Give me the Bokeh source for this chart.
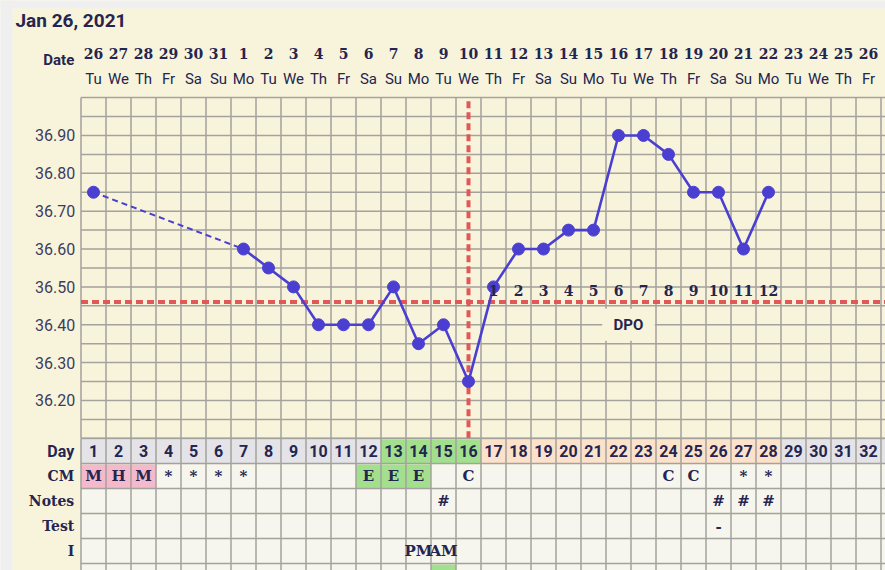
from bokeh.plotting import figure
from bokeh.models import Range1d, ColumnDataSource
from bokeh.core.properties import value
from bokeh.embed import file_html
from bokeh.resources import INLINE

# ---------------- data ----------------
title = "Jan 26, 2021"
days = list(range(1, 34))          # column 33 is only partly visible at the right edge
n_labeled = 32                     # columns whose texts are fully visible
dates = ["26", "27", "28", "29", "30", "31", "1", "2", "3", "4", "5", "6", "7", "8", "9", "10",
         "11", "12", "13", "14", "15", "16", "17", "18", "19", "20", "21", "22", "23", "24", "25", "26"]
weekdays = ["Tu", "We", "Th", "Fr", "Sa", "Su", "Mo"] * 4 + ["Tu", "We", "Th", "Fr"]

temp_days = [1, 7, 8, 9, 10, 11, 12, 13, 14, 15, 16, 17, 18, 19, 20, 21, 22, 23, 24, 25, 26, 27, 28]
temps = [36.75, 36.60, 36.55, 36.50, 36.40, 36.40, 36.40, 36.50, 36.35, 36.40, 36.25, 36.50,
         36.60, 36.60, 36.65, 36.65, 36.90, 36.90, 36.85, 36.75, 36.75, 36.60, 36.75]

y_ticks = [36.20, 36.30, 36.40, 36.50, 36.60, 36.70, 36.80, 36.90]
temp_min, temp_max, temp_step = 36.10, 37.00, 0.05
coverline = 36.46
ovulation_day = 16
dpo_days = [17, 18, 19, 20, 21, 22, 23, 24, 25, 26, 27, 28]
dpo_labels = ["1", "2", "3", "4", "5", "6", "7", "8", "9", "10", "11", "12"]

day_phase = ["base"] * 12 + ["fertile"] * 4 + ["luteal"] * 12 + ["base"] * 5
cm = ["M", "H", "M", "*", "*", "*", "*", "", "", "", "", "E", "E", "E", "", "C",
      "", "", "", "", "", "", "", "C", "C", "", "*", "*", "", "", "", "", ""]
cm_phase = ["menses"] * 3 + ["none"] * 8 + ["egg"] * 3 + ["none"] * 19
notes = [""] * 14 + ["#"] + [""] * 10 + ["#", "#", "#"] + [""] * 5
test = [""] * 25 + ["-"] + [""] * 7
intercourse = [""] * 13 + ["PM", "AM"] + [""] * 18
extra_phase = ["none"] * 14 + ["egg"] + ["none"] * 18   # partly visible row under "I"
row_labels = ["Day", "CM", "Notes", "Test", "I"]

# ---------------- style ----------------
CREAM = "#f8f4dc"
NAVY = "#25254f"
GRID = "#a3a29c"
PURPLE = "#4b3fd1"
RED = "#e05858"
PAGE = "#efefef"
CELL = "#f6f6ef"
phase_colors = {"base": "#e3e3e8", "fertile": "#a2e08e", "luteal": "#fde2cb"}
cm_colors = {"menses": "#f5b9cc", "egg": "#a2e08e", "none": CELL}

p = figure(width=885, height=570, x_range=Range1d(-2.72, 32.68),
           y_range=Range1d(35.7509, 37.2565), output_backend="svg",
           toolbar_location=None, min_border=0,
           x_axis_location=None, y_axis_location=None)
p.grid.visible = False
p.outline_line_color = None
p.background_fill_color = CREAM
p.border_fill_color = CREAM
p.extra_y_ranges = {"tbl": Range1d(5.28, -17.52)}

# light gray page strips (left and top)
p.quad(left=[-3], right=[-2.24], bottom=[35.0], top=[38.0], color=PAGE, line_color=None)
p.quad(left=[-3], right=[40], bottom=[37.2353], top=[38.0], color=PAGE, line_color=None)

# ---- temperature grid ----
n_h = int(round((temp_max - temp_min) / temp_step)) + 1
hy = [temp_min + i * temp_step for i in range(n_h)]
p.segment(x0=[0.5] * n_h, x1=[40] * n_h, y0=hy, y1=hy, line_color=GRID, line_width=1.5)
vx = [d - 0.5 for d in days] + [days[-1] + 0.5]
p.segment(x0=vx, x1=vx, y0=[temp_min] * len(vx), y1=[temp_max] * len(vx),
          line_color=GRID, line_width=1.5)

# y tick labels
p.text(x=[0.27] * len(y_ticks), y=y_ticks, text=[f"{v:.2f}" for v in y_ticks],
       text_font=value("Roboto"), text_font_size="16px", text_color="#3c3c5e",
       text_align="right", text_baseline="middle")

# ---- coverline / ovulation line ----
p.segment(x0=[0.5], x1=[40], y0=[coverline], y1=[coverline], line_color=RED,
          line_width=4, line_dash="7 4")
p.segment(x0=[ovulation_day], x1=[ovulation_day], y0=[temp_min], y1=[temp_max],
          line_color=RED, line_width=4, line_dash="7 4")

# DPO label with background
dpo_mid = (dpo_days[0] + dpo_days[-1]) / 2 - 0.1
p.rect(x=[dpo_mid], y=[36.40], width=2.1, height=0.085, fill_color=CREAM, line_color=None)
p.text(x=[dpo_mid], y=[36.40], text=["DPO"], text_font=value("Roboto"), text_font_style="bold",
       text_font_size="15px", text_color=NAVY, text_align="center", text_baseline="middle")

# ---- temperature line ----
p.line(x=temp_days[:2], y=temps[:2], line_color=PURPLE, line_width=2, line_dash="6 4")
p.line(x=temp_days[1:], y=temps[1:], line_color=PURPLE, line_width=2.6)
p.scatter(x=temp_days, y=temps, size=12, fill_color=PURPLE, line_color=PURPLE)

# DPO numbers
p.text(x=dpo_days, y=[coverline + 0.03] * len(dpo_days), text=dpo_labels,
       text_font=value("DejaVu Serif"), text_font_style="bold", text_font_size="14px",
       text_color=NAVY, text_align="center", text_baseline="middle")

# ---- header ----
lab_days = days[:n_labeled]
p.text(x=[-2.12], y=[-16.72], text=[title], y_range_name="tbl", text_font=value("Roboto"),
       text_font_style="bold", text_font_size="19px", text_color=NAVY,
       text_align="left", text_baseline="middle")
p.text(x=[0.23], y=[-15.16], text=["Date"], y_range_name="tbl", text_font=value("Roboto"),
       text_font_style="bold", text_font_size="15px", text_color=NAVY,
       text_align="right", text_baseline="middle")
p.text(x=lab_days, y=[-15.42] * len(lab_days), text=dates, y_range_name="tbl",
       text_font=value("DejaVu Serif"), text_font_style="bold", text_font_size="14px",
       text_color=NAVY, text_align="center", text_baseline="middle")
p.text(x=lab_days, y=[-14.4] * len(lab_days), text=weekdays, y_range_name="tbl",
       text_font=value("Roboto"), text_font_size="15px", text_color=NAVY,
       text_align="center", text_baseline="middle")

# ---- table ----
n_rows = len(row_labels)
row_colors = ([phase_colors[ph] for ph in day_phase]
              + [cm_colors[c] for c in cm_phase]
              + [CELL] * (len(days) * (n_rows - 2))
              + [cm_colors[c] for c in extra_phase])
n_all = n_rows + 1
cell_src = ColumnDataSource(dict(
    left=[d - 0.5 for d in days] * n_all,
    right=[d + 0.5 for d in days] * n_all,
    top=[r + 0.04 for r in range(n_all) for _ in days],
    bottom=[r + 1 for r in range(n_all) for _ in days],
    color=row_colors,
))
p.quad(left="left", right="right", top="top", bottom="bottom", fill_color="color",
       line_color=None, source=cell_src, y_range_name="tbl")

ty = list(range(n_all + 1))
p.segment(x0=[0.5] * len(ty), x1=[40] * len(ty), y0=ty, y1=ty, line_color=GRID,
          line_width=1.5, y_range_name="tbl")
p.segment(x0=vx, x1=vx, y0=[0] * len(vx), y1=[n_all] * len(vx), line_color=GRID,
          line_width=1.5, y_range_name="tbl")

# row labels
p.text(x=[0.23], y=[0.5], text=[row_labels[0]], y_range_name="tbl", text_font=value("Roboto"),
       text_font_style="bold", text_font_size="16px", text_color=NAVY,
       text_align="right", text_baseline="middle")
p.text(x=[0.23] * (n_rows - 1), y=[r + 0.5 for r in range(1, n_rows)], text=row_labels[1:],
       y_range_name="tbl", text_font=value("DejaVu Serif"), text_font_style="bold",
       text_font_size="14px", text_color=NAVY, text_align="right", text_baseline="middle")

# day numbers
p.text(x=lab_days, y=[0.5] * len(lab_days), text=[str(d) for d in lab_days],
       y_range_name="tbl", text_font=value("Roboto"), text_font_style="bold",
       text_font_size="16px", text_color=NAVY, text_align="center", text_baseline="middle")

# row contents
for r, row in enumerate([cm, notes, test, intercourse], start=1):
    xs = [d for d, t in zip(days, row) if t]
    ts = [t for t in row if t]
    p.text(x=xs, y=[r + 0.5] * len(xs), text=ts, y_range_name="tbl",
           text_font=value("DejaVu Serif"), text_font_style="bold", text_font_size="15px",
           text_color=NAVY, text_align="center", text_baseline="middle")

open("out.html", "w").write(file_html(p, INLINE))
